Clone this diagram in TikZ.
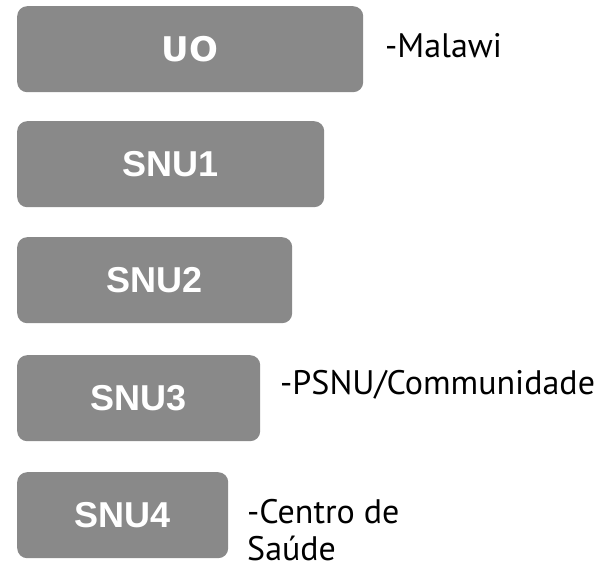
\documentclass[tikz,border=0pt]{standalone}
\usepackage{fontspec}
\newfontfamily\labelfont{PT Sans}
\newfontfamily\uofont{DejaVu Sans}
\newfontfamily\snufont{Liberation Sans}
\definecolor{boxgray}{HTML}{898989}
\begin{document}
\begin{tikzpicture}[x=1pt,y=-1pt,
  lvl/.style={fill=boxgray, rounded corners=10pt, anchor=north west,
    minimum height=86pt, inner sep=0pt, text=white},
  uotext/.style={font=\uofont\bfseries\fontsize{34}{34}\selectfont},
  snutext/.style={font=\snufont\bfseries\fontsize{36}{36}\selectfont},
  lbl/.style={anchor=base west, inner sep=0pt, text=black,
    font=\labelfont\fontsize{34}{38}\selectfont}]
\useasboundingbox (0,0) rectangle (606,568);
% hierarchy levels
\node[lvl, uotext,  minimum width=346pt] (uo)   at (17,6)   {UO};
\node[lvl, snutext, minimum width=307pt] (snu1) at (17,121) {SNU1};
\node[lvl, snutext, minimum width=275pt] (snu2) at (17,237) {SNU2};
\node[lvl, snutext, minimum width=243pt] (snu3) at (17,355) {SNU3};
\node[lvl, snutext, minimum width=211pt] (snu4) at (17,472) {SNU4};
% level descriptions
\node[lbl] (malawi) at (385,57)  {-Malawi};
\node[lbl] (psnu)   at (280,394) {-PSNU/Communidade};
\node[lbl] (centro) at (247,523) {-Centro de};
\node[lbl] (saude)  at (247,560) {Saúde};
\end{tikzpicture}
\end{document}
